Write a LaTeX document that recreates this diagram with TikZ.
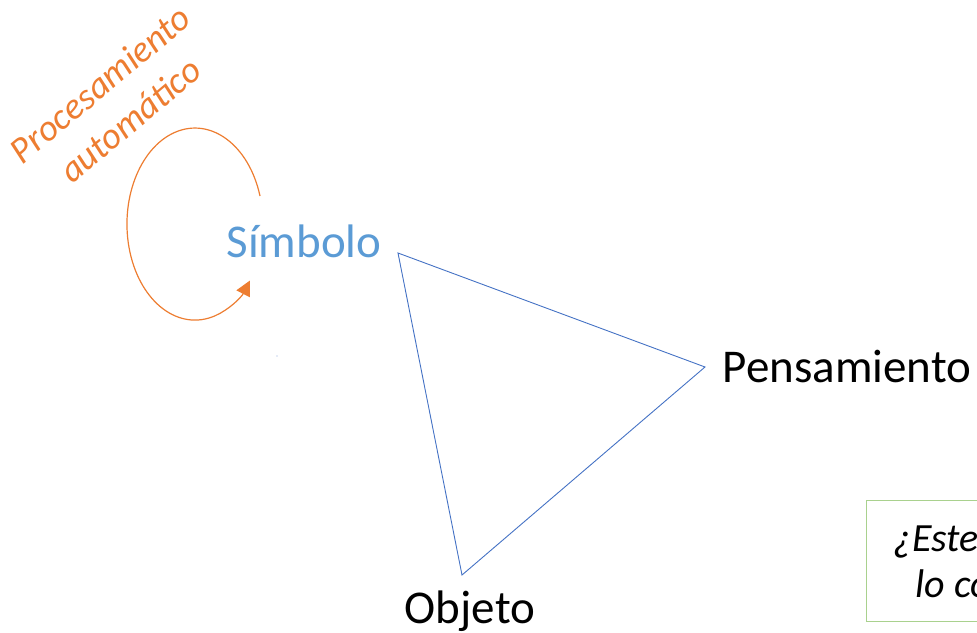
\documentclass[tikz,border=0pt]{standalone}
\usepackage{fontspec}
\setmainfont{Carlito}
\usetikzlibrary{arrows.meta}
\definecolor{simboloblue}{HTML}{5B9BD5}
\definecolor{lineablue}{HTML}{4472C4}
\definecolor{procorange}{HTML}{ED7D31}
\definecolor{boxgreen}{HTML}{A9D18E}

\begin{document}
\begin{tikzpicture}[x=1pt, y=-1pt,
    label/.style={anchor=base, inner sep=0pt, font=\fontsize{47}{56}\selectfont},
    lado/.style={draw=lineablue, line width=0.9pt}]
    \useasboundingbox (0, 0) rectangle (977, 632);
    \clip (0, 0) rectangle (977, 632);

    \node [label, text=simboloblue] (simbolo) at (304, 257) {Símbolo};
    \node [label] (pensamiento) at (847, 382) {Pensamiento};
    \node [label] (objeto) at (470, 623) {Objeto};

    \coordinate (vs) at (398, 253);
    \coordinate (vp) at (705, 367);
    \coordinate (vo) at (462, 575);
    \draw [lado] (vs) -- (vp) -- (vo) -- cycle;

    \coordinate (loopstart) at (260, 196);
    \draw [procorange, line width=1.2pt, -{Triangle[length=15pt, width=15pt]}]
        (loopstart) arc [start angle=-17, end angle=-324, x radius=68, y radius=96];
    \node [procorange, rotate=40, align=center, inner sep=0pt,
        font=\fontsize{37}{47}\selectfont\itshape] (proceso) at (115, 102)
        {Procesamiento\\autom\'atico};

    \fill [lineablue!60] (277, 356) circle (0.7);

    \node [draw=boxgreen, line width=1.3pt, anchor=north west, align=center,
        inner xsep=27pt, minimum height=121pt,
        font=\fontsize{40}{46}\selectfont\itshape] (pregunta) at (866, 500)
        {¿Este símbolo,\\lo conozco?};
  \end{tikzpicture}
\end{document}
